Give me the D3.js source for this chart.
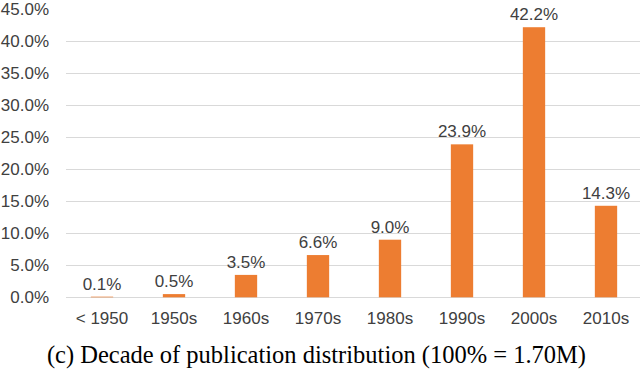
<!DOCTYPE html>
<html>
<head>
<meta charset="utf-8">
<script src="https://cdn.jsdelivr.net/npm/d3@7"></script>
<style>
  body { margin: 0; background: #fff; }
  svg { display: block; }
</style>
</head>
<body>
<svg id="chart" width="640" height="371"></svg>
<script>
const decades = ["< 1950", "1950s", "1960s", "1970s", "1980s", "1990s", "2000s", "2010s"];
const shares = [0.1, 0.5, 3.5, 6.6, 9.0, 23.9, 42.2, 14.3];
const yTicks = [0, 5, 10, 15, 20, 25, 30, 35, 40, 45];
const caption = "(c) Decade of publication distribution (100% = 1.70M)";

const svg = d3.select("#chart");
const textColor = "#404040";
const labelFont = "Liberation Sans, Arial, sans-serif";

const x = d3.scaleBand()
    .domain(decades)
    .range([66, 642])
    .paddingInner(0.69)
    .paddingOuter(0.345);

const y = d3.scaleLinear()
    .domain([0, 45])
    .range([297.3, 9.3]);

// grid lines (no line at the top tick)
svg.append("g")
    .selectAll("line")
    .data(yTicks.filter(d => d < 45))
    .join("line")
    .attr("x1", 66)
    .attr("x2", 640)
    .attr("y1", d => Math.round(y(d)) + 0.5)
    .attr("y2", d => Math.round(y(d)) + 0.5)
    .attr("stroke", "#d9d9d9")
    .attr("stroke-width", 1);

// y axis labels
const yAxis = svg.append("g")
    .attr("transform", "translate(49,0)")
    .call(d3.axisLeft(y).tickValues(yTicks).tickSize(0).tickPadding(0)
        .tickFormat(d => d.toFixed(1) + "%"));
yAxis.select(".domain").remove();
yAxis.selectAll("text")
    .attr("font-family", labelFont)
    .attr("font-size", 17)
    .attr("fill", textColor);

// x axis labels
const xAxis = svg.append("g")
    .attr("transform", "translate(0,297)")
    .call(d3.axisBottom(x).tickSize(0).tickPadding(15));
xAxis.select(".domain").remove();
xAxis.selectAll("text")
    .attr("font-family", labelFont)
    .attr("font-size", 17)
    .attr("fill", textColor);

// bars
svg.append("g")
    .selectAll("rect")
    .data(shares)
    .join("rect")
    .attr("x", (d, i) => x(decades[i]))
    .attr("y", d => y(d))
    .attr("width", x.bandwidth())
    .attr("height", d => y(0) - y(d))
    .attr("fill", "#ed7d31");

// value labels
svg.append("g")
    .selectAll("text")
    .data(shares)
    .join("text")
    .attr("x", (d, i) => x(decades[i]) + x.bandwidth() / 2)
    .attr("y", d => y(d) - 7)
    .attr("text-anchor", "middle")
    .attr("font-family", labelFont)
    .attr("font-size", 17)
    .attr("fill", textColor)
    .text(d => d.toFixed(1) + "%");

// caption
svg.append("text")
    .attr("x", 316.5)
    .attr("y", 363)
    .attr("text-anchor", "middle")
    .attr("font-family", "Liberation Serif, Times New Roman, serif")
    .attr("font-size", 24.5)
    .attr("fill", "#000")
    .text(caption);
</script>
</body>
</html>
